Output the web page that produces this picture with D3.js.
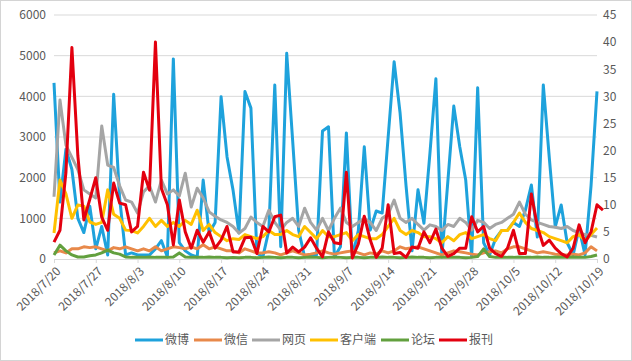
<!DOCTYPE html>
<html>
<head>
<meta charset="utf-8">
<script src="https://cdn.jsdelivr.net/npm/d3@7"></script>
<style>
  body { margin: 0; background: #fff; }
  svg text { font-family: "Noto Sans CJK SC", "Noto Sans", sans-serif; fill: #595959; }
</style>
</head>
<body>
<div id="chart"></div>
<script>
// series names and colours
const seriesNames = ["微博", "微信", "网页", "客户端", "论坛", "报刊"];
const seriesColors = ["#1ea2dc", "#e8894a", "#a5a5a5", "#ffc000", "#62a03e", "#e3000f"];

// one value per day, 2018/7/20 .. 2018/10/19
const weibo = [4330,1400,2700,2200,1000,650,1300,250,800,100,4050,1500,100,150,100,100,100,250,450,50,
  4920,400,200,100,50,1940,640,900,3990,2510,1700,640,4120,3710,150,50,700,4280,300,5060,
  2900,710,50,100,100,3150,3250,50,300,3100,50,700,2760,710,1180,1130,3000,4850,3590,1800,
  200,1700,880,2600,4430,50,1900,3760,2760,1940,50,4210,400,100,500,700,710,900,800,1200,
  1820,540,4280,2500,790,1330,400,100,750,100,1800,4120];
const weixin = [150,200,150,250,250,300,280,300,250,200,280,250,300,250,200,250,200,300,200,250,
  300,280,250,300,250,350,250,300,250,200,200,150,250,200,150,150,180,150,100,150,
  200,150,100,120,150,200,150,120,150,180,200,150,100,150,120,200,150,200,300,250,
  280,300,250,200,150,100,150,200,180,150,120,100,150,180,200,150,250,300,300,250,
  200,150,180,150,120,100,100,120,100,150,300,200];
const wangye = [1530,3910,2800,2500,2200,1700,1600,1500,3270,2310,2250,1800,1450,1400,1130,1650,1800,1400,1940,1600,
  1700,1550,2110,1280,1740,1500,1160,1050,960,900,800,640,750,1030,900,800,1200,900,710,900,
  1000,800,1250,900,710,1000,700,1000,1250,900,800,900,1000,900,700,1000,1100,1450,1000,900,
  1000,850,710,840,800,700,850,800,1000,900,710,950,900,750,850,900,1000,1100,1400,1100,
  960,900,850,800,780,750,800,700,650,600,580,540];
const kehuduan = [640,1940,1600,1000,1330,1300,910,850,900,1700,1100,1000,710,700,640,800,1000,800,950,800,
  900,800,950,850,1200,700,850,650,550,450,500,480,600,550,500,550,700,600,600,700,
  600,550,800,650,500,700,550,550,600,650,450,600,550,500,500,600,800,1000,700,600,
  700,650,550,550,500,400,550,450,600,650,500,550,600,500,450,700,700,900,1130,900,
  750,700,650,550,500,450,400,550,600,450,600,760];
const luntan = [100,340,200,100,50,50,80,100,150,220,150,120,50,40,40,40,50,40,40,40,
  50,150,50,40,40,40,50,40,40,30,40,30,40,40,30,40,50,40,30,40,
  40,30,40,50,40,30,40,50,40,30,40,40,30,40,40,50,40,40,30,40,
  50,40,40,30,40,40,50,40,40,30,40,60,250,60,40,50,40,40,50,40,
  40,50,40,40,50,40,40,50,40,40,60,100];
// 报刊 is read on the right axis
const baokan = [3.1,5.3,16,39,19,7.2,11,15,7.7,5.3,14,10.3,10,5,6,16,12.7,40,13,10,
  2.6,10.9,5,2,5.3,3.1,5,2,3.5,6,1.3,1.3,3.9,4,1,6,5,7.8,8.1,1.1,
  2.2,1.3,2.2,3.9,2,0.4,5,3,2.8,16,0.2,2.8,7.9,3.5,0.3,2,10,1,1.2,0.3,
  2.2,2,5,3,5.5,2,0.5,1,2,2,7.8,5,6,2,1,0.5,2,5.3,1,1,
  12,6,2.5,3.5,2,1,0.4,2,6.3,3,5,10,9];

const leftTicks = [0, 1000, 2000, 3000, 4000, 5000, 6000];
const rightTicks = [0, 5, 10, 15, 20, 25, 30, 35, 40, 45];
const dateLabels = ["2018/7/20","2018/7/27","2018/8/3","2018/8/10","2018/8/17","2018/8/24","2018/8/31",
  "2018/9/7","2018/9/14","2018/9/21","2018/9/28","2018/10/5","2018/10/12","2018/10/19"];

const allSeries = [weibo, weixin, wangye, kehuduan, luntan, baokan];

var width = 632, height = 361;
var plotLeft = 54, plotRight = 597, plotTop = 15, plotBottom = 259;

const svg = d3.select("#chart").append("svg")
  .attr("width", width)
  .attr("height", height);

svg.append("rect")
  .attr("x", 0.5).attr("y", 0.5)
  .attr("width", width - 1).attr("height", height - 1)
  .attr("fill", "#fff")
  .attr("stroke", "#d4d4d4");

const x = d3.scaleLinear().domain([0, weibo.length - 1]).range([plotLeft, plotRight]);
const yLeft = d3.scaleLinear().domain([0, 6000]).range([plotBottom, plotTop]);
const yRight = d3.scaleLinear().domain([0, 45]).range([plotBottom, plotTop]);

// gridlines
svg.append("g")
  .selectAll("line")
  .data(leftTicks.slice(1))
  .enter()
  .append("line")
  .attr("x1", plotLeft).attr("x2", plotRight)
  .attr("y1", d => yLeft(d)).attr("y2", d => yLeft(d))
  .attr("stroke", "#d9d9d9")
  .attr("stroke-width", 1);

// left axis
const gl = svg.append("g")
  .attr("transform", `translate(${plotLeft - 8},0)`)
  .call(d3.axisLeft(yLeft).tickValues(leftTicks).tickFormat(d3.format("d")).tickSize(0).tickPadding(0));
gl.select(".domain").remove();
gl.selectAll("text").style("font-size", "12px");

// right axis
const gr = svg.append("g")
  .attr("transform", `translate(${plotRight + 6},0)`)
  .call(d3.axisRight(yRight).tickValues(rightTicks).tickSize(0).tickPadding(0));
gr.select(".domain").remove();
gr.selectAll("text").style("font-size", "12px");

// x axis
const tickIdx = dateLabels.map((d, i) => i * 7);
const gx = svg.append("g")
  .attr("transform", `translate(0,${plotBottom})`)
  .call(d3.axisBottom(x).tickValues(tickIdx).tickSize(4).tickFormat((d, i) => dateLabels[i]));
gx.select(".domain").attr("stroke", "#d9d9d9");
gx.selectAll("line").attr("stroke", "#d9d9d9");
gx.selectAll("text")
  .style("font-size", "12px")
  .attr("text-anchor", "end")
  .attr("y", 0)
  .attr("dy", "0.35em")
  .attr("transform", "translate(4,10) rotate(-45)");

// lines
allSeries.forEach((values, s) => {
  const yScale = s === 5 ? yRight : yLeft;
  const line = d3.line()
    .x((d, i) => x(i))
    .y(d => yScale(d));
  svg.append("path")
    .datum(values)
    .attr("fill", "none")
    .attr("stroke", seriesColors[s])
    .attr("stroke-width", 3)
    .attr("stroke-linejoin", "round")
    .attr("d", line);
});

// legend
const legendX = [135, 194, 252, 310, 381, 439];
const lg = svg.append("g").attr("transform", "translate(0,340)");
seriesNames.forEach((name, i) => {
  lg.append("line")
    .attr("x1", legendX[i]).attr("x2", legendX[i] + 28)
    .attr("y1", 0).attr("y2", 0)
    .attr("stroke", seriesColors[i])
    .attr("stroke-width", 3);
  lg.append("text")
    .attr("x", legendX[i] + 30)
    .attr("y", 0)
    .attr("dy", "0.35em")
    .style("font-size", "12px")
    .text(name);
});
</script>
</body>
</html>
